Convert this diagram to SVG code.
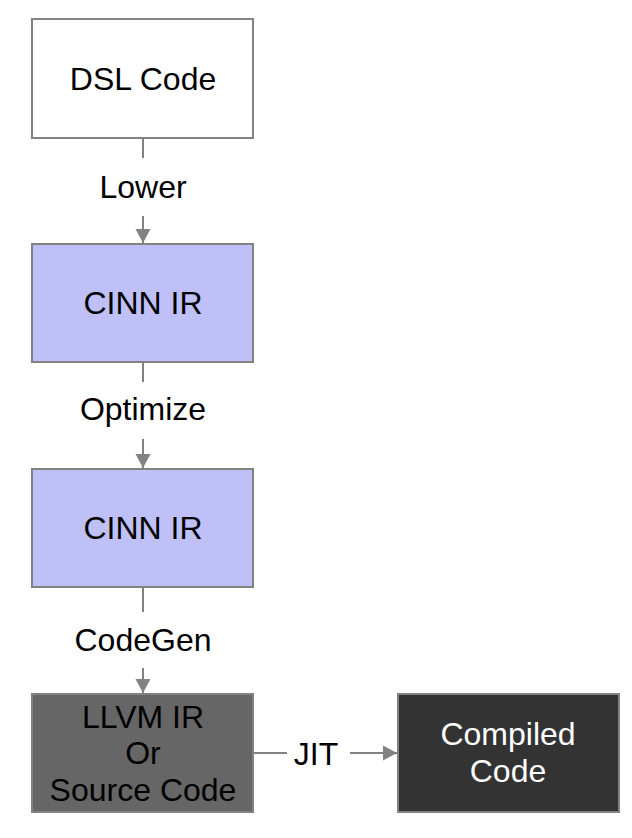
<svg xmlns="http://www.w3.org/2000/svg" width="632" height="838" viewBox="0 0 632 838">
  <defs>
    <style>
      .box { stroke: #828282; stroke-width: 2; }
      .t { font-family: "Liberation Sans", Arial, Helvetica, sans-serif; font-size: 32px; text-anchor: middle; fill: #000; }
      .w { fill: #fff; }
      .c { stroke: #828282; stroke-width: 2; fill: none; }
    </style>
    <marker id="ah" viewBox="0 0 14 20" refX="14" refY="10" markerWidth="14" markerHeight="20" markerUnits="userSpaceOnUse" orient="auto">
      <path d="M0,2.5 L14,10 L0,17.5 Z" fill="#828282"/>
    </marker>
  </defs>
  <rect width="632" height="838" fill="#ffffff"/>

  <g id="connectors">
    <line class="c" x1="143" y1="138" x2="143" y2="158"/>
    <text class="t" x="143" y="198">Lower</text>
    <line class="c" x1="143" y1="216" x2="143" y2="243" marker-end="url(#ah)"/>

    <line class="c" x1="143" y1="362" x2="143" y2="382"/>
    <text class="t" x="143" y="420">Optimize</text>
    <line class="c" x1="143" y1="439" x2="143" y2="468" marker-end="url(#ah)"/>

    <line class="c" x1="143" y1="587" x2="143" y2="612"/>
    <text class="t" x="143" y="651">CodeGen</text>
    <line class="c" x1="143" y1="668" x2="143" y2="693" marker-end="url(#ah)"/>

    <line class="c" x1="253" y1="753" x2="287" y2="753"/>
    <text class="t" x="316" y="765">JIT</text>
    <line class="c" x1="350" y1="753" x2="397" y2="753" marker-end="url(#ah)"/>
  </g>

  <g id="dsl">
    <rect class="box" x="32" y="19" width="221" height="119" fill="#ffffff"/>
    <text class="t" x="143" y="90">DSL Code</text>
  </g>
  <g id="cinn1">
    <rect class="box" x="32" y="244" width="221" height="118" fill="#c0c0f8"/>
    <text class="t" x="143" y="314">CINN IR</text>
  </g>
  <g id="cinn2">
    <rect class="box" x="32" y="469" width="221" height="118" fill="#c0c0f8"/>
    <text class="t" x="143" y="539">CINN IR</text>
  </g>
  <g id="llvm">
    <rect class="box" x="32" y="694" width="221" height="118" fill="#666666"/>
    <text class="t" x="143" y="728">LLVM IR</text>
    <text class="t" x="143" y="764">Or</text>
    <text class="t" x="143" y="801">Source Code</text>
  </g>
  <g id="compiled">
    <rect class="box" x="398" y="694" width="221" height="118" fill="#333333"/>
    <text class="t w" x="508" y="745">Compiled</text>
    <text class="t w" x="508" y="782">Code</text>
  </g>
</svg>
